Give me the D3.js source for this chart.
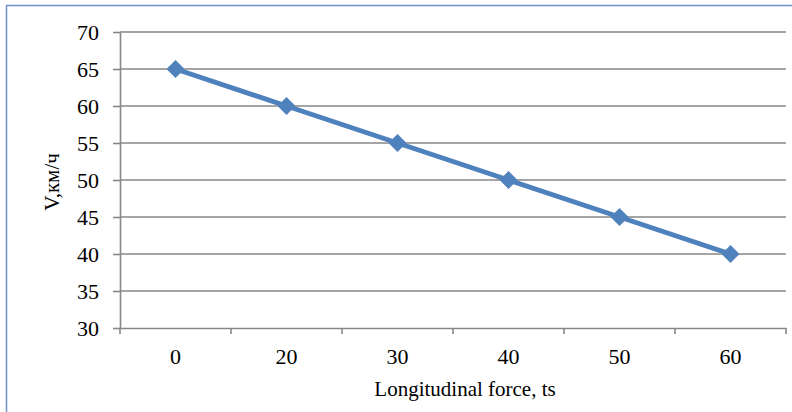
<!DOCTYPE html>
<html>
<head>
<meta charset="utf-8">
<script src="https://cdn.jsdelivr.net/npm/d3@7"></script>
<style>
  html, body { margin: 0; padding: 0; background: #fff; }
  svg { display: block; }
</style>
</head>
<body>
<div id="chart"></div>
<script>
// data
const categories = ["0", "20", "30", "40", "50", "60"];
const speeds = [65, 60, 55, 50, 45, 40];
const yTicks = [30, 35, 40, 45, 50, 55, 60, 65, 70];

const width = 792;
const height = 412;
const marginTop = 32;
const marginRight = 6;
const marginBottom = 84;
const marginLeft = 120;
const font = "'Liberation Serif', 'Times New Roman', serif";
const lineColor = "#4f81bd";

const svg = d3.select("#chart")
  .append("svg")
  .attr("width", width)
  .attr("height", height)
  .attr("viewBox", [0, 0, width, height]);

// outer frame
svg.append("rect")
  .attr("x", 6.5)
  .attr("y", 5.5)
  .attr("width", width)
  .attr("height", height)
  .attr("fill", "white")
  .attr("stroke", "#6f93c8")
  .attr("stroke-width", 1.5);

const x = d3.scaleBand()
  .domain(categories)
  .range([marginLeft, width - marginRight]);

const y = d3.scaleLinear()
  .domain([30, 70])
  .range([height - marginBottom, marginTop]);

// gridlines
svg.append("g")
  .selectAll("line")
  .data(yTicks.slice(1))
  .join("line")
  .attr("x1", marginLeft)
  .attr("x2", width - marginRight)
  .attr("y1", d => y(d))
  .attr("y2", d => y(d))
  .attr("stroke", "#878787")
  .attr("stroke-width", 1.6);

// y axis
svg.append("g")
  .attr("transform", `translate(${marginLeft},0)`)
  .call(d3.axisLeft(y).tickValues(yTicks).tickSize(7).tickPadding(14).tickSizeOuter(0))
  .call(g => g.select(".domain").attr("stroke", "#878787").attr("stroke-width", 1.6))
  .call(g => g.selectAll(".tick line").attr("stroke", "#878787").attr("stroke-width", 1.6))
  .call(g => g.selectAll("text")
    .attr("fill", "#000")
    .style("font-family", font)
    .style("font-size", "22px"));

// x axis
const xAxis = svg.append("g")
  .attr("transform", `translate(0,${height - marginBottom})`)
  .call(d3.axisBottom(x).tickSize(0).tickPadding(20))
  .call(g => g.select(".domain").attr("stroke", "#878787").attr("stroke-width", 1.6))
  .call(g => g.selectAll("text")
    .attr("fill", "#000")
    .style("font-family", font)
    .style("font-size", "22px"));

// x ticks between categories
xAxis.append("g")
  .selectAll("line")
  .data(categories.map(c => x(c)).concat([x.range()[1]]))
  .join("line")
  .attr("x1", d => d)
  .attr("x2", d => d)
  .attr("y1", 0)
  .attr("y2", 6)
  .attr("stroke", "#878787")
  .attr("stroke-width", 1.6);

// line
const pts = categories.map((c, i) => [x(c) + x.bandwidth() / 2, y(speeds[i])]);

svg.append("path")
  .datum(pts)
  .attr("fill", "none")
  .attr("stroke", lineColor)
  .attr("stroke-width", 5)
  .attr("stroke-linejoin", "round")
  .attr("d", d3.line());

// diamond markers
svg.append("g")
  .selectAll("path")
  .data(pts)
  .join("path")
  .attr("transform", d => `translate(${d[0]},${d[1]})`)
  .attr("d", "M0,-9L9,0L0,9L-9,0Z")
  .attr("fill", lineColor);

// axis titles
svg.append("text")
  .attr("x", 465)
  .attr("y", 396)
  .attr("text-anchor", "middle")
  .style("font-family", font)
  .style("font-size", "21px")
  .text("Longitudinal force, ts");

svg.append("text")
  .attr("transform", `translate(59,${(marginTop + height - marginBottom) / 2 + 2}) rotate(-90)`)
  .attr("text-anchor", "middle")
  .style("font-family", font)
  .style("font-size", "21px")
  .text("V,км/ч");
</script>
</body>
</html>
